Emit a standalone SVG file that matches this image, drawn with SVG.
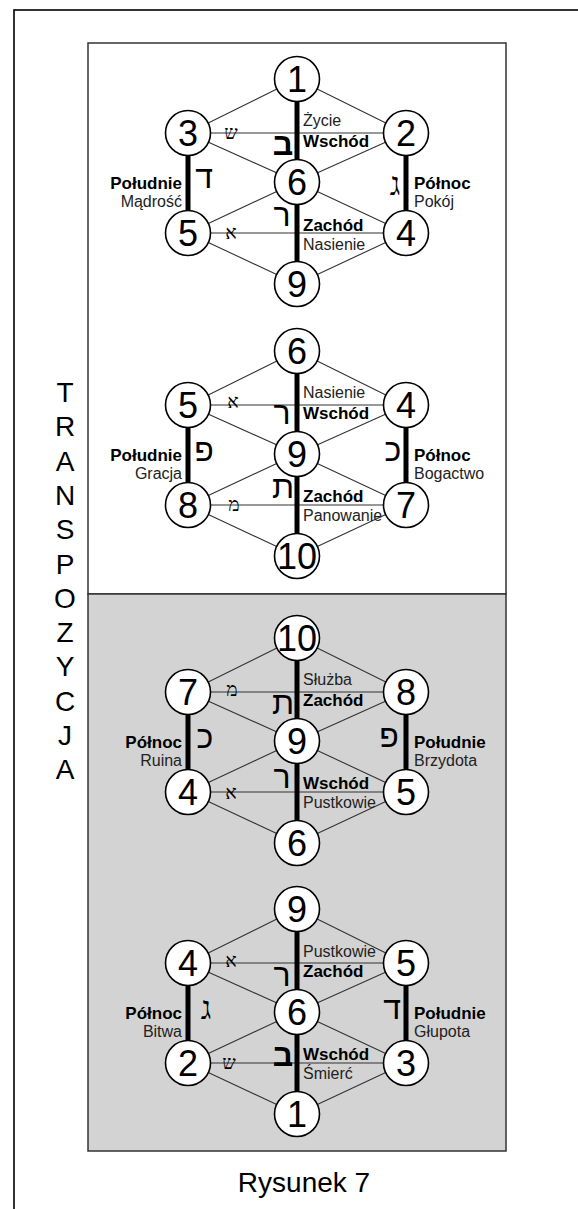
<svg xmlns="http://www.w3.org/2000/svg" width="578" height="1209" viewBox="0 0 578 1209">
<style>
.thin{stroke:#333;stroke-width:1.1;fill:none}
.thick{stroke:#000;stroke-width:5;fill:none}
.nd{fill:#fff;stroke:#000;stroke-width:1.6}
.num{font-family:"Liberation Sans",Arial,sans-serif;font-size:36px;fill:#000;text-anchor:middle}
.b{font-family:"Liberation Sans",Arial,sans-serif;font-size:17px;font-weight:bold;fill:#000}
.r{font-family:"Liberation Sans",Arial,sans-serif;font-size:16px;fill:#222}
.e{text-anchor:end}
.hb{font-family:"Liberation Sans","DejaVu Sans",sans-serif;font-size:32px;fill:#000;text-anchor:middle}
.bold{font-weight:bold}
.hm{font-family:"Liberation Serif","DejaVu Sans",serif;font-size:32px;fill:#000;text-anchor:middle}
.hs{font-family:"Liberation Serif","DejaVu Sans",serif;font-size:19px;fill:#000;text-anchor:middle}
.big{font-family:"Liberation Sans",Arial,sans-serif;font-size:28px;fill:#000;text-anchor:middle}
</style>
<rect x="14" y="10" width="600" height="1250" fill="#fff" stroke="#000" stroke-width="1.6"/>
<rect x="88" y="43" width="418" height="551" fill="#fff" stroke="#333" stroke-width="1.5"/>
<rect x="88" y="594" width="418" height="557" fill="#d3d3d3" stroke="#333" stroke-width="1.5"/>
<g id="side-label">
<text class="big" x="65" y="402">T</text>
<text class="big" x="65" y="436">R</text>
<text class="big" x="65" y="471">A</text>
<text class="big" x="65" y="505">N</text>
<text class="big" x="65" y="539">S</text>
<text class="big" x="65" y="574">P</text>
<text class="big" x="65" y="608">O</text>
<text class="big" x="65" y="642">Z</text>
<text class="big" x="65" y="676">Y</text>
<text class="big" x="65" y="711">C</text>
<text class="big" x="65" y="745">J</text>
<text class="big" x="65" y="779">A</text>
</g>
<text class="big" x="304" y="1192">Rysunek 7</text>
<g id="connectors">
<path class="thin" d="M297 79L188 133M297 79L406 133M188 133L297 182M406 133L297 182M188 133H406M297 182L188 233M297 182L406 233M188 233H406M188 233L297 284M406 233L297 284"/>
<path class="thick" d="M297 79V284M188 133V233M406 133V233"/>
<path class="thin" d="M297 351L188 405M297 351L406 405M188 405L297 454M406 405L297 454M188 405H406M297 454L188 505M297 454L406 505M188 505H406M188 505L297 556M406 505L297 556"/>
<path class="thick" d="M297 351V556M188 405V505M406 405V505"/>
<path class="thin" d="M297 638L188 692M297 638L406 692M188 692L297 741M406 692L297 741M188 692H406M297 741L188 792M297 741L406 792M188 792H406M188 792L297 843M406 792L297 843"/>
<path class="thick" d="M297 638V843M188 692V792M406 692V792"/>
<path class="thin" d="M297 909L188 963M297 909L406 963M188 963L297 1012M406 963L297 1012M188 963H406M297 1012L188 1063M297 1012L406 1063M188 1063H406M188 1063L297 1114M406 1063L297 1114"/>
<path class="thick" d="M297 909V1114M188 963V1063M406 963V1063"/>
</g>
<g id="d1">
<g id="d1-n1"><circle class="nd" cx="297" cy="79" r="22.5"/><text class="num" x="297" y="92">1</text></g>
<g id="d1-n3"><circle class="nd" cx="188" cy="133" r="22.5"/><text class="num" x="188" y="146">3</text></g>
<g id="d1-n2"><circle class="nd" cx="406" cy="133" r="22.5"/><text class="num" x="406" y="146">2</text></g>
<g id="d1-n6"><circle class="nd" cx="297" cy="182" r="22.5"/><text class="num" x="297" y="195">6</text></g>
<g id="d1-n5"><circle class="nd" cx="188" cy="233" r="22.5"/><text class="num" x="188" y="246">5</text></g>
<g id="d1-n4"><circle class="nd" cx="406" cy="233" r="22.5"/><text class="num" x="406" y="246">4</text></g>
<g id="d1-n9"><circle class="nd" cx="297" cy="284" r="22.5"/><text class="num" x="297" y="297">9</text></g>
<text class="r" x="303" y="126">Życie</text>
<text class="b" x="303" y="147">Wschód</text>
<text class="b" x="303" y="231">Zachód</text>
<text class="r" x="303" y="250">Nasienie</text>
<text class="b e" x="182" y="189">Południe</text>
<text class="r e" x="182" y="207">Mądrość</text>
<text class="b" x="414" y="189">Północ</text>
<text class="r" x="414" y="207">Pokój</text>
<text class="hs" x="231" y="139">ש</text>
<text class="hb bold" x="283" y="155">ב</text>
<text class="hb" x="204" y="188">ד</text>
<text class="hm" x="395" y="195">ג</text>
<text class="hb" x="282" y="226">ר</text>
<text class="hs" x="231" y="239">א</text>
</g>
<g id="d2">
<g id="d2-n6"><circle class="nd" cx="297" cy="351" r="22.5"/><text class="num" x="297" y="364">6</text></g>
<g id="d2-n5"><circle class="nd" cx="188" cy="405" r="22.5"/><text class="num" x="188" y="418">5</text></g>
<g id="d2-n4"><circle class="nd" cx="406" cy="405" r="22.5"/><text class="num" x="406" y="418">4</text></g>
<g id="d2-n9"><circle class="nd" cx="297" cy="454" r="22.5"/><text class="num" x="297" y="467">9</text></g>
<g id="d2-n8"><circle class="nd" cx="188" cy="505" r="22.5"/><text class="num" x="188" y="518">8</text></g>
<g id="d2-n7"><circle class="nd" cx="406" cy="505" r="22.5"/><text class="num" x="406" y="518">7</text></g>
<g id="d2-n10"><circle class="nd" cx="297" cy="556" r="22.5"/><text class="num" x="297" y="569">10</text></g>
<text class="r" x="303" y="398">Nasienie</text>
<text class="b" x="303" y="419">Wschód</text>
<text class="b" x="303" y="502">Zachód</text>
<text class="r" x="303" y="521">Panowanie</text>
<text class="b e" x="182" y="461">Południe</text>
<text class="r e" x="182" y="479">Gracja</text>
<text class="b" x="414" y="461">Północ</text>
<text class="r" x="414" y="479">Bogactwo</text>
<text class="hs" x="233" y="408">א</text>
<text class="hb" x="282" y="424">ר</text>
<text class="hb" x="204" y="461">פ</text>
<text class="hb" x="393" y="461">כ</text>
<text class="hb" x="283" y="498">ת</text>
<text class="hs" x="234" y="511">מ</text>
</g>
<g id="d3">
<g id="d3-n10"><circle class="nd" cx="297" cy="638" r="22.5"/><text class="num" x="297" y="651">10</text></g>
<g id="d3-n7"><circle class="nd" cx="188" cy="692" r="22.5"/><text class="num" x="188" y="705">7</text></g>
<g id="d3-n8"><circle class="nd" cx="406" cy="692" r="22.5"/><text class="num" x="406" y="705">8</text></g>
<g id="d3-n9"><circle class="nd" cx="297" cy="741" r="22.5"/><text class="num" x="297" y="754">9</text></g>
<g id="d3-n4"><circle class="nd" cx="188" cy="792" r="22.5"/><text class="num" x="188" y="805">4</text></g>
<g id="d3-n5"><circle class="nd" cx="406" cy="792" r="22.5"/><text class="num" x="406" y="805">5</text></g>
<g id="d3-n6"><circle class="nd" cx="297" cy="843" r="22.5"/><text class="num" x="297" y="856">6</text></g>
<text class="r" x="303" y="685">Służba</text>
<text class="b" x="303" y="706">Zachód</text>
<text class="b" x="303" y="789">Wschód</text>
<text class="r" x="303" y="808">Pustkowie</text>
<text class="b e" x="182" y="748">Północ</text>
<text class="r e" x="182" y="766">Ruina</text>
<text class="b" x="414" y="748">Południe</text>
<text class="r" x="414" y="766">Brzydota</text>
<text class="hs" x="232" y="696">מ</text>
<text class="hb" x="283" y="714">ת</text>
<text class="hb" x="205" y="748">כ</text>
<text class="hb" x="389" y="747">פ</text>
<text class="hb" x="282" y="788">ר</text>
<text class="hs" x="231" y="799">א</text>
</g>
<g id="d4">
<g id="d4-n9"><circle class="nd" cx="297" cy="909" r="22.5"/><text class="num" x="297" y="922">9</text></g>
<g id="d4-n4"><circle class="nd" cx="188" cy="963" r="22.5"/><text class="num" x="188" y="976">4</text></g>
<g id="d4-n5"><circle class="nd" cx="406" cy="963" r="22.5"/><text class="num" x="406" y="976">5</text></g>
<g id="d4-n6"><circle class="nd" cx="297" cy="1012" r="22.5"/><text class="num" x="297" y="1025">6</text></g>
<g id="d4-n2"><circle class="nd" cx="188" cy="1063" r="22.5"/><text class="num" x="188" y="1076">2</text></g>
<g id="d4-n3"><circle class="nd" cx="406" cy="1063" r="22.5"/><text class="num" x="406" y="1076">3</text></g>
<g id="d4-n1"><circle class="nd" cx="297" cy="1114" r="22.5"/><text class="num" x="297" y="1127">1</text></g>
<text class="r" x="303" y="957">Pustkowie</text>
<text class="b" x="303" y="977">Zachód</text>
<text class="b" x="303" y="1060">Wschód</text>
<text class="r" x="303" y="1079">Śmierć</text>
<text class="b e" x="182" y="1019">Północ</text>
<text class="r e" x="182" y="1037">Bitwa</text>
<text class="b" x="414" y="1019">Południe</text>
<text class="r" x="414" y="1037">Głupota</text>
<text class="hs" x="231" y="967">א</text>
<text class="hb" x="282" y="986">ר</text>
<text class="hm" x="206" y="1019">ג</text>
<text class="hb" x="392" y="1019">ד</text>
<text class="hb bold" x="283" y="1066">ב</text>
<text class="hs" x="229" y="1069">ש</text>
</g>
</svg>
